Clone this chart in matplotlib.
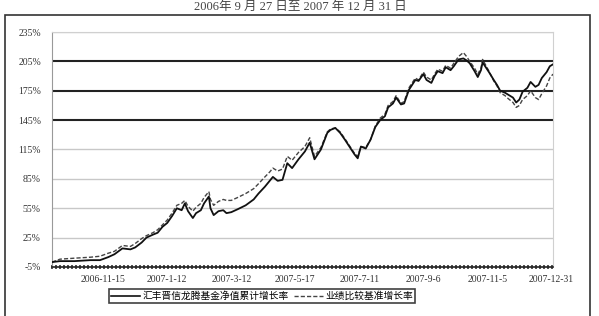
import matplotlib
matplotlib.use("Agg")
import matplotlib.pyplot as plt
from matplotlib.lines import Line2D
from matplotlib.patches import Rectangle
import numpy as np

plt.rcParams['font.family'] = ['Liberation Serif', 'Noto Sans CJK SC', 'DejaVu Sans']

# ---- data (trading-day index, cumulative return %) ----
day_idx = [0, 5, 14, 24, 30, 35, 39, 44, 49, 52, 56, 59, 63, 66, 69, 72, 75, 78, 81, 83,
           85, 88, 90, 93, 95, 98, 99, 101, 104, 107, 109, 112, 116, 121, 126, 129, 133, 136, 138, 141,
           144, 147, 150, 154, 158, 161, 164, 168, 172, 174, 177, 180, 183, 185, 189, 191, 193, 196, 199, 202,
           205, 208, 210, 213, 215, 218, 220, 223, 225, 227, 229, 232, 234, 237, 239, 241, 244, 246, 249, 251,
           254, 257, 259, 261, 264, 266, 268, 269, 271, 273, 276, 278, 280, 283, 285, 288, 290, 292, 294, 297,
           299, 302, 304, 306, 309, 311, 313]

fund = [0, 1, 1, 2, 2, 5, 8, 14, 13, 15, 20, 25, 28, 30, 36, 40, 47, 55, 53, 60,
        52, 45, 50, 53, 60, 67, 55, 48, 52, 53, 50, 51, 54, 58, 64, 70, 77, 83, 87, 83,
        84, 101, 96, 105, 113, 122, 105, 115, 132, 135, 137, 132, 125, 120, 110, 106, 118, 116, 125, 138,
        145, 149, 158, 162, 168, 161, 162, 176, 181, 186, 185, 192, 186, 183, 190, 195, 193, 199, 196, 200,
        207, 208, 206, 203, 195, 189, 196, 204, 199, 194, 186, 181, 175, 173, 171, 168, 163, 166, 174, 178,
        184, 179, 181, 188, 194, 200, 202]

bench = [0, 3, 4, 5, 6, 9, 11, 17, 16, 19, 24, 27, 30, 33, 38, 43, 50, 58, 60, 63,
         57, 52, 56, 60, 66, 72, 64, 58, 62, 64, 63, 63, 66, 70, 75, 80, 87, 92, 96, 93,
         95, 108, 104, 112, 118, 127, 108, 117, 133, 136, 137, 133, 126, 121, 111, 108, 118, 117, 125, 139,
         147, 151, 160, 164, 170, 162, 164, 178, 183, 188, 186, 194, 189, 186, 192, 197, 195, 201, 198, 203,
         210, 214, 210, 205, 198, 192, 198, 207, 201, 195, 185, 180, 173, 170, 167, 163, 158, 160, 166, 170,
         175, 168, 166, 172, 180, 188, 192]

tick_pos = [32, 72, 112, 152, 192, 232, 272, 312]
tick_labels = ['2006-11-15', '2007-1-12', '2007-3-12', '2007-5-17',
               '2007-7-11', '2007-9-6', '2007-11-5', '2007-12-31']
y_ticks = [-5, 25, 55, 85, 115, 145, 175, 205, 235]
dark_grid = [145, 175, 205]

title = '2006年 9 月 27 日至 2007 年 12 月 31 日'
label_fund = '汇丰晋信龙腾基金净值累计增长率'
label_bench = '业绩比较基准增长率'

W, H = 599, 316
fig = plt.figure(figsize=(W / 100, H / 100), dpi=100)

# outer frame
fig.patches.append(Rectangle((5 / W, -0.05), 585 / W, 1 - 15 / H + 0.05, transform=fig.transFigure,
                             fill=False, edgecolor='#333333', linewidth=1.2))

ax = fig.add_axes([52 / W, 1 - 267 / H, (553 - 52) / W, (267 - 32) / H])
ax.set_xlim(0, 313)
ax.set_ylim(-5, 235)

for yv in y_ticks[1:]:
    if yv in dark_grid:
        ax.axhline(yv, color='#222222', lw=1.5, zorder=1)
    else:
        ax.axhline(yv, color='#c8c8c8', lw=1.0, zorder=1)

ax.plot(day_idx, bench, color='#444444', lw=1.0, ls=(0, (3, 1.5)), zorder=3, label=label_bench)
ax.plot(day_idx, fund, color='#111111', lw=1.3, zorder=4, label=label_fund)

ax.set_yticks(y_ticks)
ax.set_yticklabels([f'{v}%' for v in y_ticks], fontsize=7, color='#333333')
ax.set_xticks(tick_pos)
ax.set_xticklabels(tick_labels, fontsize=7, color='#333333')
ax.set_xticks(np.arange(0, 314, 2.5), minor=True)
ax.tick_params(axis='x', which='major', length=0, pad=6)
ax.tick_params(axis='x', which='minor', length=3, width=1.2, direction='inout', color='#333333')
ax.tick_params(axis='y', length=0, pad=8)

for s in ['top', 'right']:
    ax.spines[s].set_color('#d0d0d0')
ax.spines['left'].set_color('#999999')
ax.spines['bottom'].set_color('#222222')
ax.spines['bottom'].set_linewidth(1.2)

handles = [Line2D([], [], color='#111111', lw=1.2),
           Line2D([], [], color='#444444', lw=1.0, ls=(0, (3, 1.5)))]
leg = fig.legend(handles, [label_fund, label_bench], loc='center',
                 bbox_to_anchor=(262 / W, 1 - 296 / H), ncol=2,
                 prop={'family': ['Noto Sans CJK SC', 'DejaVu Sans'], 'size': 7},
                 frameon=True, fancybox=False, edgecolor='#111111', handlelength=3.0,
                 handletextpad=0.2, columnspacing=0.6, borderpad=0.25, borderaxespad=0)
leg.get_frame().set_linewidth(1.2)

fig.text(300 / W, 1 - 6.5 / H, title, ha='center', va='center', fontsize=9, color='#444444')

fig.savefig('out.png', dpi=100)
